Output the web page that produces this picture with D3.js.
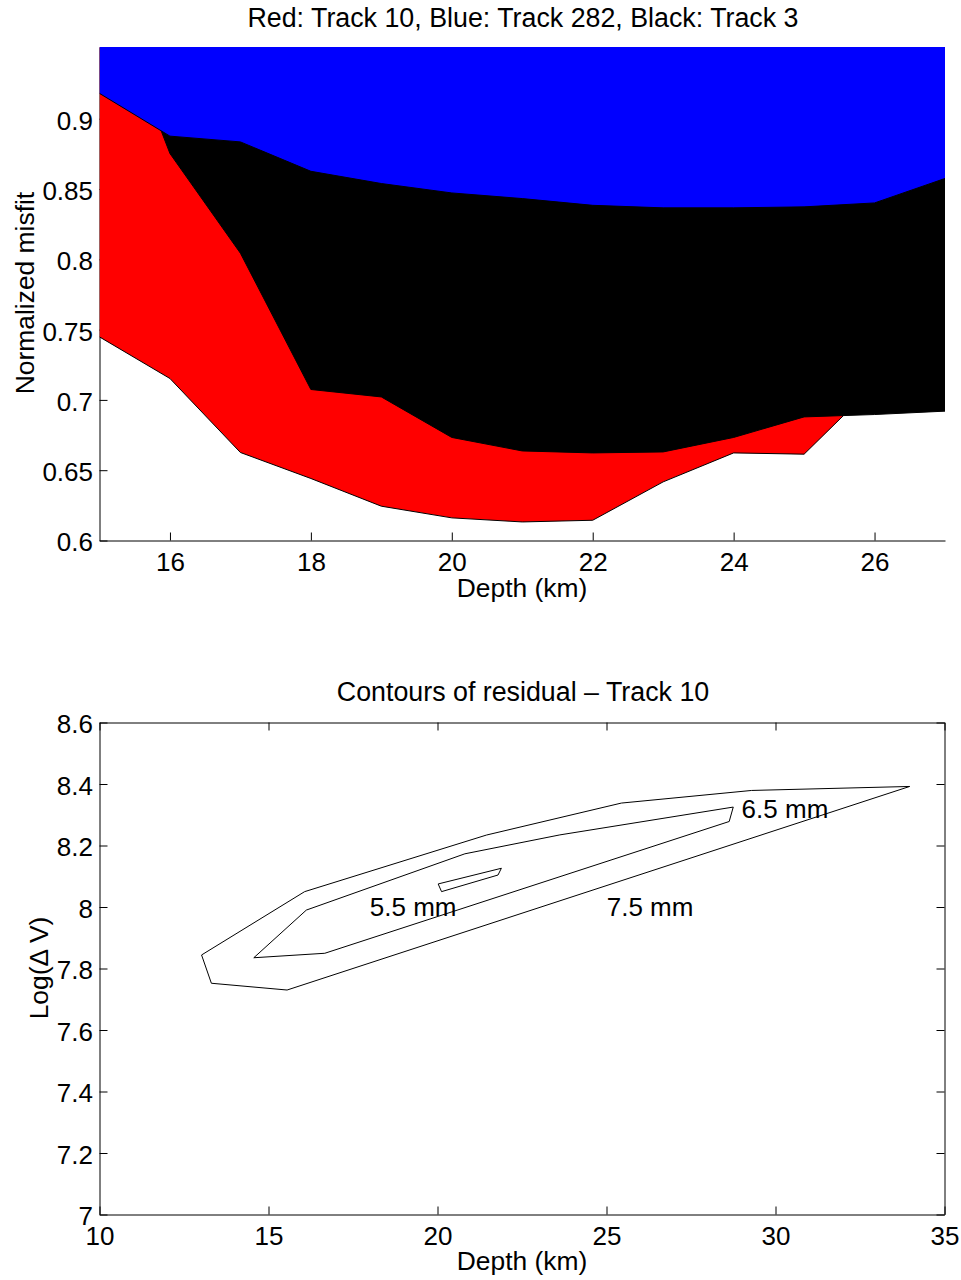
<!DOCTYPE html>
<html>
<head>
<meta charset="utf-8">
<script src="https://cdn.jsdelivr.net/npm/d3@7"></script>
<style>
  html, body { margin: 0; padding: 0; background: #fff; }
  svg text { font-family: "Liberation Sans", Arial, Helvetica, sans-serif; fill: #000; }
</style>
</head>
<body>
<svg id="chart" width="961" height="1280"></svg>
<script>
// ---------- Top chart data ----------
const depthTop = [15, 16, 17, 18, 19, 20, 21, 22, 23, 24, 25, 26, 27];
const redMisfit   = [0.7448, 0.7152, 0.6626, 0.6441, 0.6244, 0.6161, 0.6132, 0.6144, 0.6417, 0.6623, 0.6614, 0.7105, 0.7400];
const blackMisfit = [1.0050, 0.8752, 0.8043, 0.7074, 0.7021, 0.6733, 0.6637, 0.6623, 0.6630, 0.6733, 0.6879, 0.6896, 0.6920];
const blueMisfit  = [0.9180, 0.8876, 0.8835, 0.8626, 0.8539, 0.8472, 0.8432, 0.8384, 0.8366, 0.8366, 0.8373, 0.8401, 0.8575];
const topXTicks = [16, 18, 20, 22, 24, 26];
const topYTicks = [0.6, 0.65, 0.7, 0.75, 0.8, 0.85, 0.9];
const topTitle = "Red: Track 10, Blue: Track 282, Black: Track 3";
const topXLabel = "Depth (km)";
const topYLabel = "Normalized misfit";

// ---------- Bottom chart data ----------
const contour75 = [[13.02,7.844],[13.31,7.752],[15.55,7.730],[33.97,8.392],[29.29,8.379],[25.44,8.338],[21.45,8.234],[16.07,8.050],[13.02,7.844]];
const contour65 = [[14.565,7.835],[16.666,7.8495],[28.63,8.278],[28.75,8.325],[23.62,8.2345],[20.81,8.173],[16.12,7.990],[14.565,7.835]];
const contour55 = [[20.02,8.075],[21.89,8.126],[21.79,8.104],[20.12,8.050],[20.02,8.075]];
const contourLabels = ["5.5 mm", "6.5 mm", "7.5 mm"];
const labelPos = [[19.28, 8.0], [30.28, 8.319], [26.29, 8.0]];
const botXTicks = [10, 15, 20, 25, 30, 35];
const botYTicks = [7, 7.2, 7.4, 7.6, 7.8, 8, 8.2, 8.4, 8.6];
const botTitle = "Contours of residual \u2013 Track 10";
const botXLabel = "Depth (km)";
const botYLabel = "Log(\u0394 V)";

const FS = 26;      // tick labels / contour labels
const FS_T = 26.8;  // titles
const FS_L = 26.4;  // axis labels
const svg = d3.select("#chart");

// ================= TOP CHART =================
const L = 99.5, R = 944.5;
const xT = d3.scaleLinear().domain([15, 27]).range([L, R + 0.5]);
const yT = d3.scaleLinear().domain([0.6, 0.951]).range([540.5, 47]);

const gTop = svg.append("g");
// axes (drawn under fills)
const axB = gTop.append("g").attr("transform", `translate(0,${yT(0.6)})`)
  .call(d3.axisBottom(xT).tickValues(topXTicks).tickFormat(d3.format("d"))
        .tickSizeInner(-8).tickSizeOuter(0).tickPadding(12.5));
const axL = gTop.append("g").attr("transform", `translate(${L},0)`)
  .call(d3.axisLeft(yT).tickValues(topYTicks).tickFormat(d => String(d))
        .tickSizeInner(-8).tickSizeOuter(0).tickPadding(6.5));
[axB, axL].forEach(a => {
  a.selectAll("path,line").attr("stroke", "#000").attr("stroke-width", 1);
  a.selectAll("text").style("font-size", FS + "px").attr("fill", "#000");
});
axL.selectAll("text").attr("dy", "0.40em");

// clip
svg.append("clipPath").attr("id", "clipTop")
  .append("rect").attr("x", L).attr("y", 47).attr("width", 945 - L).attr("height", yT(0.6) - 47);

const fills = gTop.append("g").attr("clip-path", "url(#clipTop)");
const series = [
  {vals: redMisfit, color: "#ff0000"},
  {vals: blackMisfit, color: "#000000"},
  {vals: blueMisfit, color: "#0000ff"}
];
series.forEach(s => {
  const pts = depthTop.map((d, i) => [d, s.vals[i]]);
  const area = d3.area().x(d => xT(d[0])).y0(yT(1.2)).y1(d => yT(d[1]));
  const line = d3.line().x(d => xT(d[0])).y(d => yT(d[1]));
  fills.append("path").attr("d", area(pts)).attr("fill", s.color).attr("stroke", "none");
  fills.append("path").attr("d", line(pts)).attr("fill", "none").attr("stroke", "#000").attr("stroke-width", 1);
});

gTop.append("text").attr("x", 523).attr("y", 27).attr("text-anchor", "middle")
  .style("font-size", FS_T + "px").text(topTitle);
gTop.append("text").attr("x", 522).attr("y", 597).attr("text-anchor", "middle")
  .style("font-size", FS_L + "px").text(topXLabel);
gTop.append("text").attr("transform", `translate(34,${293}) rotate(-90)`).attr("text-anchor", "middle")
  .style("font-size", FS_L + "px").text(topYLabel);

// ================= BOTTOM CHART =================
const xB = d3.scaleLinear().domain([10, 35]).range([L, R]);
const yB = d3.scaleLinear().domain([7, 8.6]).range([1214.5, 722.5]);
const gBot = svg.append("g");

const bB = gBot.append("g").attr("transform", `translate(0,${yB(7)})`)
  .call(d3.axisBottom(xB).tickValues(botXTicks).tickFormat(d3.format("d"))
        .tickSizeInner(-8).tickSizeOuter(0).tickPadding(12.5));
const bT = gBot.append("g").attr("transform", `translate(0,${yB(8.6)})`)
  .call(d3.axisTop(xB).tickValues(botXTicks).tickFormat("")
        .tickSizeInner(-8).tickSizeOuter(0));
const bL = gBot.append("g").attr("transform", `translate(${L},0)`)
  .call(d3.axisLeft(yB).tickValues(botYTicks).tickFormat(d => String(d))
        .tickSizeInner(-8).tickSizeOuter(0).tickPadding(6.5));
const bR = gBot.append("g").attr("transform", `translate(${R},0)`)
  .call(d3.axisRight(yB).tickValues(botYTicks).tickFormat("")
        .tickSizeInner(-8).tickSizeOuter(0));
[bB, bT, bL, bR].forEach(a => {
  a.selectAll("path,line").attr("stroke", "#000").attr("stroke-width", 1);
  a.selectAll("text").style("font-size", FS + "px").attr("fill", "#000");
});
bL.selectAll("text").attr("dy", "0.40em");

const cline = d3.line().x(d => xB(d[0])).y(d => yB(d[1]));
[contour75, contour65, contour55].forEach(c => {
  gBot.append("path").attr("d", cline(c)).attr("fill", "none").attr("stroke", "#000").attr("stroke-width", 1);
});
contourLabels.forEach((t, i) => {
  gBot.append("text").attr("x", xB(labelPos[i][0])).attr("y", yB(labelPos[i][1]))
    .attr("dy", "0.36em").attr("text-anchor", "middle")
    .style("font-size", FS + "px").text(t);
});

gBot.append("text").attr("x", 523).attr("y", 701).attr("text-anchor", "middle")
  .style("font-size", FS_T + "px").text(botTitle);
gBot.append("text").attr("x", 522).attr("y", 1270).attr("text-anchor", "middle")
  .style("font-size", FS_L + "px").text(botXLabel);
gBot.append("text").attr("transform", `translate(48,${968}) rotate(-90)`).attr("text-anchor", "middle")
  .style("font-size", FS_L + "px").text(botYLabel);
</script>
</body>
</html>
